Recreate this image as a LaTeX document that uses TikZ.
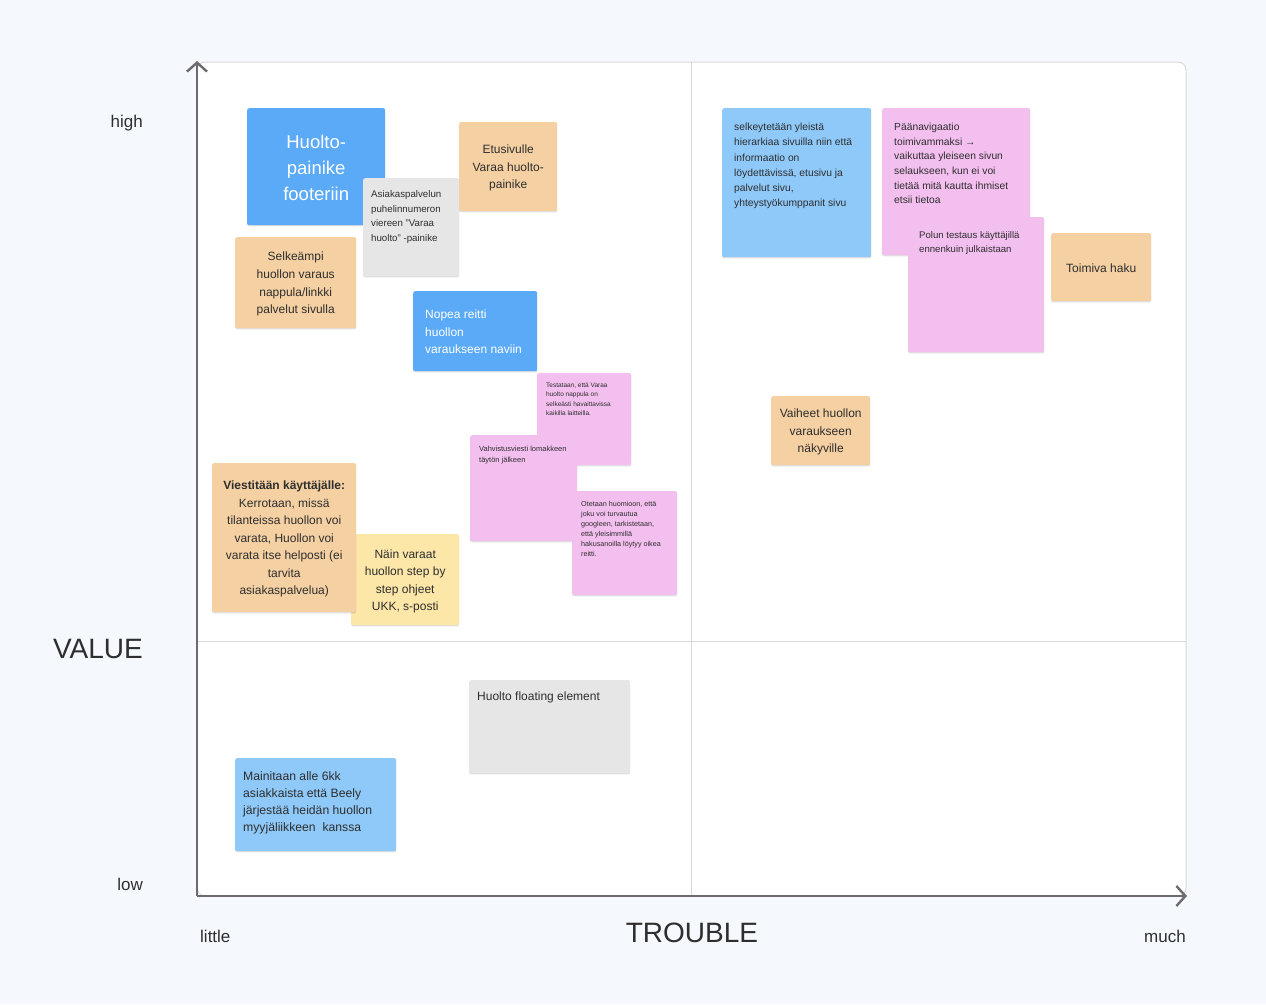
\documentclass[tikz,border=0pt]{standalone}
\usepackage{fontspec}
\setmainfont{Liberation Sans}
\usetikzlibrary{arrows.meta,shadows,calc}
\definecolor{bg}{HTML}{F5F9FE}
\definecolor{axis}{HTML}{6E6A70}
\definecolor{gridc}{HTML}{D9D9DC}
\definecolor{bblue}{HTML}{5AAAF8}
\definecolor{lblue}{HTML}{8FC9F9}
\definecolor{orng}{HTML}{F5D0A3}
\definecolor{pnk}{HTML}{F3BFEF}
\definecolor{yllw}{HTML}{FCE6A8}
\definecolor{gry}{HTML}{E6E6E6}
\definecolor{ink}{HTML}{2E2E2E}
\newcommand{\fs}[2]{\fontsize{#1}{#2}\selectfont}
\tikzset{
  note/.style={anchor=north west, inner sep=0pt, rounded corners=2pt,
    drop shadow={shadow xshift=0pt, shadow yshift=-1.2pt, opacity=0.12, fill=black}},
  txt/.style={anchor=north west, inner sep=0pt, align=left, text=ink},
  ctxt/.style={inner sep=0pt, align=center, text=ink},
  lab/.style={inner sep=0pt, text=ink},
}
\begin{document}
\begin{tikzpicture}[x=1pt,y=-1pt]
\useasboundingbox (0,0) rectangle (1266,1004);
\fill[bg] (0,0) rectangle (1266,1004);
% quadrant area
\draw[gridc, fill=white, line width=1pt, rounded corners=8pt] (197,896) -- (197,62) -- (1186,62) -- (1186,896) -- cycle;
\coordinate (gt) at (691,62);
\coordinate (gb) at (691,896);
\coordinate (gl) at (197,641);
\coordinate (gr) at (1186,641);
\draw[gridc, line width=1pt] (gt) -- (gb);
\draw[gridc, line width=1pt] (gl) -- (gr);
% axes
\coordinate (o) at (197,896);
\coordinate (ytip) at (197,61);
\coordinate (xtip) at (1187,896);
\draw[axis, line width=2.4pt, -{Straight Barb[length=9pt,width=20pt]}] (o) -- (ytip);
\draw[axis, line width=2.4pt, -{Straight Barb[length=9pt,width=20pt]}] (o) -- (xtip);
% axis labels
\node (high) [lab, anchor=base east, font=\fs{17}{20}] at (143,127) {high};
\node (low) [lab, anchor=base east, font=\fs{17}{20}] at (143,890) {low};
\node (value) [lab, anchor=base east, font=\fs{28}{32}] at (143,658) {VALUE};
\node (little) [lab, anchor=base west, font=\fs{17}{20}] at (200,942) {little};
\node (much) [lab, anchor=base east, font=\fs{17}{20}] at (1186,942) {much};
\node (trouble) [lab, anchor=base, font=\fs{28}{32}] at (692,942) {TROUBLE};

% note 1 big blue
\node (n1) [note, fill=bblue, minimum width=138pt, minimum height=117pt] at (247,108) {};
\node (n1t) [ctxt, text=white, font=\fs{18.5}{26}] at ($(n1.center)+(0,1)$) {Huolto-\\painike\\footeriin};
% note 2 gray
\node (n2) [note, fill=gry, minimum width=96pt, minimum height=98pt] at (363,178) {};
\node (n2t) [txt, font=\fs{9.7}{14.6}] at (371,190.5) {Asiakaspalvelun\\puhelinnumeron\\viereen "Varaa\\huolto" -painike};
% note 3 orange
\node (n3) [note, fill=orng, minimum width=98pt, minimum height=89pt] at (459,122) {};
\node (n3t) [ctxt, font=\fs{12}{17.5}] at ($(n3.center)+(0,1.5)$) {Etusivulle\\Varaa huolto-\\painike};
% note 4 orange
\node (n4) [note, fill=orng, minimum width=121pt, minimum height=91pt] at (235,237) {};
\node (n4t) [ctxt, font=\fs{12}{17.6}] at ($(n4.center)+(0,1.5)$) {Selkeämpi\\huollon varaus\\nappula/linkki\\palvelut sivulla};
% note 5 blue
\node (n5) [note, fill=bblue, minimum width=124pt, minimum height=80pt] at (413,291) {};
\node (n5t) [txt, text=white, font=\fs{12}{17.5}] at (425,310) {Nopea reitti\\huollon\\varaukseen naviin};
% note 6 pink
\node (n6) [note, fill=pnk, minimum width=94pt, minimum height=92pt] at (537,373) {};
\node (n6t) [txt, font=\fs{6.5}{9.5}] at (546,382.5) {Testataan, että Varaa\\huolto nappula on\\selkeästi havaittavissa\\kaikilla laitteilla.};
% note 7 pink
\node (n7) [note, fill=pnk, minimum width=107pt, minimum height=106pt] at (470,435) {};
\node (n7t) [txt, font=\fs{7.5}{11}] at (479,446) {Vahvistusviesti lomakkeen\\täytön jälkeen};
% note 8 pink
\node (n8) [note, fill=pnk, minimum width=105pt, minimum height=104pt] at (572,491) {};
\node (n8t) [txt, font=\fs{7.2}{10}] at (581,501) {Otetaan huomioon, että\\joku voi turvautua\\googleen, tarkistetaan,\\että yleisimmillä\\hakusanoilla löytyy oikea\\reitti.};
% note 10 yellow
\node (n10) [note, fill=yllw, minimum width=108pt, minimum height=91pt] at (351,534) {};
\node (n10t) [ctxt, font=\fs{12}{17.5}] at ($(n10.center)+(0,1.5)$) {Näin varaat\\huollon step by\\step ohjeet\\UKK, s-posti};
% note 9 orange
\node (n9) [note, fill=orng, minimum width=144pt, minimum height=149pt] at (212,463) {};
\node (n9t) [ctxt, font=\fs{12}{17.5}] at ($(n9.center)+(0,1.5)$) {\textbf{Viestitään käyttäjälle:}\\Kerrotaan, missä\\tilanteissa huollon voi\\varata, Huollon voi\\varata itse helposti (ei\\tarvita\\asiakaspalvelua)};
% note 11 gray
\node (n11) [note, fill=gry, minimum width=161pt, minimum height=93pt] at (469,680) {};
\node (n11t) [txt, font=\fs{12}{17.5}] at (477,692) {Huolto floating element};
% note 12 light blue
\node (n12) [note, fill=lblue, minimum width=161pt, minimum height=93pt] at (235,758) {};
\node (n12t) [txt, font=\fs{12.2}{17.3}] at (243,771) {Mainitaan alle 6kk\\asiakkaista että Beely\\järjestää heidän huollon\\myyjäliikkeen\ \ kanssa};
% note 13 light blue
\node (n13) [note, fill=lblue, minimum width=149pt, minimum height=149pt] at (722,108) {};
\node (n13t) [txt, font=\fs{10.3}{15.2}] at (734,123) {selkeytetään yleistä\\hierarkiaa sivuilla niin että\\informaatio on\\löydettävissä, etusivu ja\\palvelut sivu,\\yhteystyökumppanit sivu};
% note 14 pink
\node (n14) [note, fill=pnk, minimum width=148pt, minimum height=147pt] at (882,108) {};
\node (n14t) [txt, font=\fs{10.3}{14.6}] at (894,123) {Päänavigaatio\\toimivammaksi →\\vaikuttaa yleiseen sivun\\selaukseen, kun ei voi\\tietää mitä kautta ihmiset\\etsii tietoa};
% note 15 pink
\node (n15) [note, fill=pnk, minimum width=136pt, minimum height=135pt] at (908,217) {};
\node (n15t) [txt, font=\fs{9.6}{14}] at (919,231) {Polun testaus käyttäjillä\\ennenkuin julkaistaan};
% note 16 orange
\node (n16) [note, fill=orng, minimum width=100pt, minimum height=68pt] at (1051,233) {};
\node (n16t) [ctxt, font=\fs{12}{17.5}] at ($(n16.center)+(0,1)$) {Toimiva haku};
% note 17 orange
\node (n17) [note, fill=orng, minimum width=99pt, minimum height=69pt] at (771,396) {};
\node (n17t) [ctxt, font=\fs{12}{17.5}] at ($(n17.center)+(0,1.5)$) {Vaiheet huollon\\varaukseen\\näkyville};
\end{tikzpicture}
\end{document}
